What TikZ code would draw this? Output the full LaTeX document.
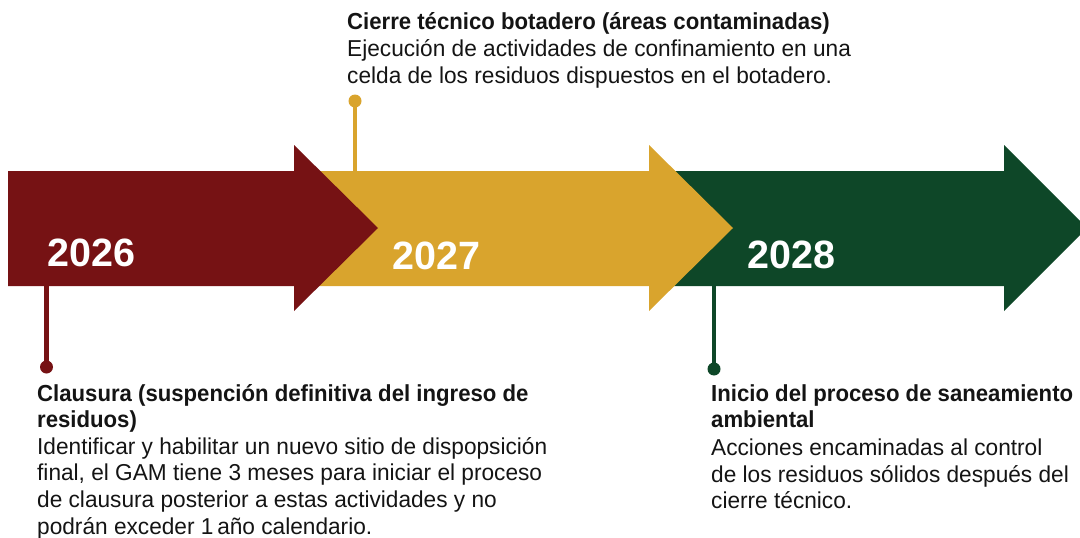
\documentclass[tikz,border=0pt]{standalone}
\usepackage{fontspec}
\setmainfont{Liberation Sans}
\newfontfamily\titlefont{Liberation Sans}[FakeStretch=0.955]
\newfontfamily\bodyfont{Liberation Sans}[FakeStretch=0.985]
\definecolor{cred}{HTML}{761214}
\definecolor{cyellow}{HTML}{D9A42D}
\definecolor{cgreen}{HTML}{0E4728}
\definecolor{ink}{HTML}{141414}
\begin{document}
\begin{tikzpicture}[x=1pt,y=-1pt,
  body/.style={anchor=base west, inner sep=0pt, text=ink, font=\bodyfont\fontsize{23}{26.7}\selectfont},
  ttl/.style={anchor=base west, inner sep=0pt, text=ink, font=\titlefont\bfseries\fontsize{23.2}{26.7}\selectfont},
  yearlbl/.style={anchor=base west, inner sep=0pt, text=white, font=\bfseries\fontsize{39.5}{44}\selectfont},
  pinline/.style={line width=4.5pt},
  pindot/.style={circle, inner sep=0pt, minimum size=13pt, draw=none},
]
\useasboundingbox (0,0) rectangle (1080,538);

% pins (behind arrows)
\node[pindot, fill=cyellow] (ydot) at (355,101) {};
\coordinate (ytop) at (355,175);
\draw[pinline, cyellow] (ydot.center) -- (ytop);
\node[pindot, fill=cred] (rdot) at (46.5,367) {};
\coordinate (rtop) at (46.5,280);
\draw[pinline, cred] (rtop) -- (rdot.center);
\node[pindot, fill=cgreen] (gdot) at (714,369) {};
\coordinate (gtop) at (714,280);
\draw[pinline, cgreen] (gtop) -- (gdot.center);

% arrows
\fill[cgreen] (650,171) -- (1004,171) -- (1004,145) -- (1087,228) -- (1004,311) -- (1004,286) -- (650,286) -- cycle;
\fill[cyellow] (300,171) -- (649,171) -- (649,145) -- (733,228) -- (649,311) -- (649,286) -- (300,286) -- cycle;
\fill[cred] (8,171) -- (294,171) -- (294,145) -- (378,228) -- (294,311) -- (294,286) -- (8,286) -- cycle;

% years
\node[yearlbl] (y2026) at (47,266.7) {2026};
\node[yearlbl] (y2027) at (392.5,269) {2027};
\node[yearlbl] (y2028) at (747.5,268.3) {2028};

% yellow text
\node[ttl] (yt1) at (347,29) {Cierre técnico botadero (áreas contaminadas)};
\node[body] (yb1) at (347,56.5) {Ejecución de actividades de confinamiento en una};
\node[body] (yb2) at (347,83) {celda de los residuos dispuestos en el botadero.};

% red text
\node[ttl] (rt1) at (37,401.5) {Clausura (suspención definitiva del ingreso de};
\node[ttl] (rt2) at (37,427) {residuos)};
\node[body] (rb1) at (37,454.3) {Identificar y habilitar un nuevo sitio de dispopsición};
\node[body] (rb2) at (37,480.7) {final, el GAM tiene 3 meses para iniciar el proceso};
\node[body] (rb3) at (37,507.5) {de clausura posterior a estas actividades y no};
\node[body] (rb4) at (37,534) {podrán exceder 1\,año calendario.};

% green text
\node[ttl] (gt1) at (711,401.5) {Inicio del proceso de saneamiento};
\node[ttl] (gt2) at (711,427) {ambiental};
\node[body] (gb1) at (711,455.5) {Acciones encaminadas al control};
\node[body] (gb2) at (711,482) {de los residuos sólidos después del};
\node[body] (gb3) at (711,508.5) {cierre técnico.};
\end{tikzpicture}
\end{document}
